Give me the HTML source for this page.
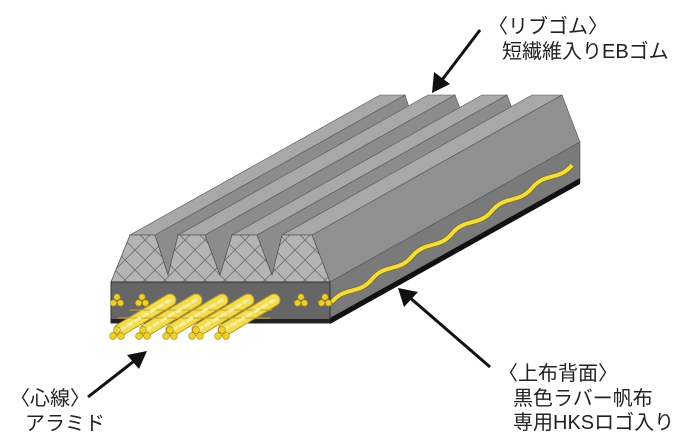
<!DOCTYPE html>
<html><head><meta charset="utf-8">
<style>
html,body{margin:0;padding:0;background:#fff;}
svg{display:block;}
text{font-family:"Liberation Sans","Noto Sans CJK JP",sans-serif;fill:#222;font-size:20px;}
</style></head>
<body>
<svg width="700" height="447" viewBox="0 0 700 447" xmlns="http://www.w3.org/2000/svg">
<defs>
<pattern id="hatch" patternUnits="userSpaceOnUse" width="20" height="20" x="5" y="0">
<rect width="20" height="20" fill="#b4b4b4"/>
<path d="M0,0 L20,20 M20,0 L0,20" stroke="#6f6f6f" stroke-width="0.8"/>
</pattern>
</defs>
<g stroke="#555" stroke-width="0.6">
<polygon points="155,235 168,275 418,135 405,95" fill="#8c8c8c"/>
<polygon points="205,235 220,275 470,135 455,95" fill="#8c8c8c"/>
<polygon points="257,235 272,275 522,135 507,95" fill="#8c8c8c"/>
<polygon points="130,235 155,235 405,95 380,95" fill="#a8a8a8"/>
<polygon points="178,235 205,235 455,95 428,95" fill="#a8a8a8"/>
<polygon points="232,235 257,235 507,95 482,95" fill="#a8a8a8"/>
<polygon points="282,235 312,235 562,95 532,95" fill="#a8a8a8"/>
<polygon points="312,235 330,282 580,142 562,95" fill="#909090"/>
<polygon points="330,282 580,142 580,183 330,323" fill="#7a7a7a"/>
</g>
<polygon points="330,318 580,178 580,184 330,324" fill="#111"/>
<path d="M332,302 c13,-16 27,-7 40,-22.8 s27,-7 40,-22.8 s27,-7 40,-22.8 s27,-7 40,-22.8 s27,-7 40,-22.8 s27,-7 40,-22.8" fill="none" stroke="#7a6a10" stroke-width="5.5"/>
<path d="M332,302 c13,-16 27,-7 40,-22.8 s27,-7 40,-22.8 s27,-7 40,-22.8 s27,-7 40,-22.8 s27,-7 40,-22.8 s27,-7 40,-22.8" fill="none" stroke="#f2dc40" stroke-width="4"/>
<polygon points="111,282 130,235 155,235 168,275 178,235 205,235 220,275 232,235 257,235 272,275 282,235 312,235 330,282" fill="url(#hatch)" stroke="#555" stroke-width="0.8"/>
<rect x="111" y="282" width="219" height="41" fill="#666" stroke="#333" stroke-width="1"/>
<rect x="111" y="319" width="219" height="4" fill="#222"/>
<g fill="#f0cf28" stroke="#a08818" stroke-width="0.6">
<circle cx="117" cy="297" r="3.2"/><circle cx="113.5" cy="303" r="3.2"/><circle cx="120.5" cy="303" r="3.2"/>
<circle cx="142" cy="297" r="3.2"/><circle cx="138.5" cy="303" r="3.2"/><circle cx="145.5" cy="303" r="3.2"/>
<circle cx="301" cy="297" r="3.2"/><circle cx="297.5" cy="303" r="3.2"/><circle cx="304.5" cy="303" r="3.2"/>
<circle cx="325" cy="297" r="3.2"/><circle cx="321.5" cy="303" r="3.2"/><circle cx="328.5" cy="303" r="3.2"/>
</g>
<g stroke-linecap="round">
<g stroke="#b89a20" stroke-width="13">
<line x1="120" y1="330" x2="170" y2="300"/><line x1="146" y1="330" x2="196" y2="300"/><line x1="172" y1="330" x2="222" y2="300"/><line x1="198" y1="330" x2="248" y2="300"/><line x1="224" y1="330" x2="274" y2="300"/>
</g>
<g stroke="#f3dc50" stroke-width="11">
<line x1="120" y1="330" x2="170" y2="300"/><line x1="146" y1="330" x2="196" y2="300"/><line x1="172" y1="330" x2="222" y2="300"/><line x1="198" y1="330" x2="248" y2="300"/><line x1="224" y1="330" x2="274" y2="300"/>
</g>
<g stroke="#c8a828" stroke-width="1" >
<path d="M118,318 L270,318 M130,310 L272,310"/>
</g>
<g stroke="#fbf0a0" stroke-width="3" stroke-dasharray="5 4">
<line x1="120" y1="330" x2="170" y2="300"/><line x1="146" y1="330" x2="196" y2="300"/><line x1="172" y1="330" x2="222" y2="300"/><line x1="198" y1="330" x2="248" y2="300"/><line x1="224" y1="330" x2="274" y2="300"/>
</g>
</g>
<g fill="#f0cf28" stroke="#a08818" stroke-width="0.6">
<circle cx="117" cy="330" r="3.4"/><circle cx="113" cy="336" r="3.4"/><circle cx="121" cy="336" r="3.4"/>
<circle cx="143" cy="330" r="3.4"/><circle cx="139" cy="336" r="3.4"/><circle cx="147" cy="336" r="3.4"/>
<circle cx="170" cy="330" r="3.4"/><circle cx="166" cy="336" r="3.4"/><circle cx="174" cy="336" r="3.4"/>
<circle cx="196" cy="330" r="3.4"/><circle cx="192" cy="336" r="3.4"/><circle cx="200" cy="336" r="3.4"/>
<circle cx="222" cy="330" r="3.4"/><circle cx="218" cy="336" r="3.4"/><circle cx="226" cy="336" r="3.4"/>
</g>
<g stroke="#111" stroke-width="3">
<line x1="480" y1="30" x2="442" y2="80"/>
<line x1="490" y1="367" x2="408" y2="296"/>
<line x1="88" y1="397" x2="138" y2="358"/>
</g>
<g fill="#111">
<polygon points="432,93 434,72 450,84"/>
<polygon points="398,288 418,292 404,307"/>
<polygon points="147,351 127,355 139,369"/>
</g>
<text x="488" y="33">〈リブゴム〉</text>
<text x="502" y="58">短繊維入りEBゴム</text>
<text x="498" y="380">〈上布背面〉</text>
<text x="513" y="405">黒色ラバー帆布</text>
<text x="513" y="429">専用HKSロゴ入り</text>
<text x="10" y="405">〈心線〉</text>
<text x="25" y="430">アラミド</text>
</svg>
</body></html>
